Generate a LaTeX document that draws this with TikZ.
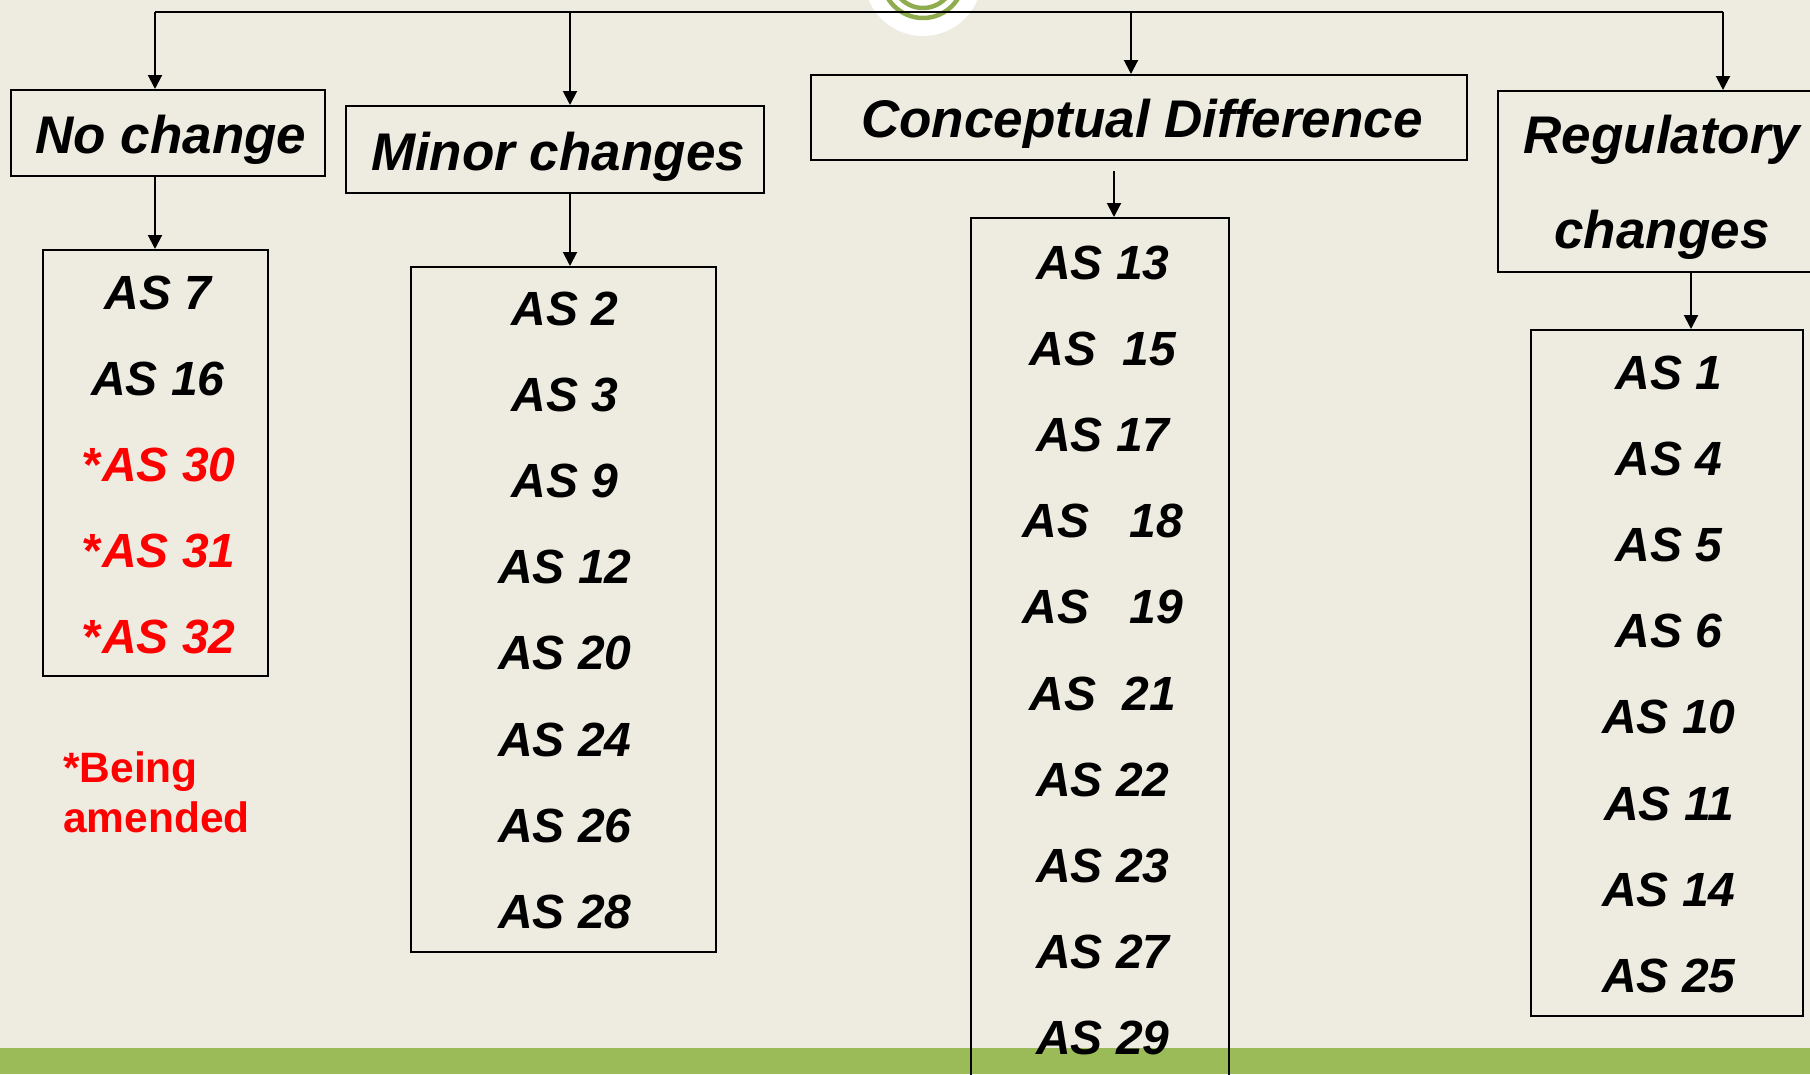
\documentclass[tikz,border=0pt]{standalone}
\usepackage{fontspec}
\setmainfont{Liberation Sans}
\usetikzlibrary{arrows.meta}
\definecolor{bg}{HTML}{EEECE1}
\definecolor{barg}{HTML}{9BBB59}
\definecolor{ringg}{HTML}{8FAD4E}
\definecolor{amend}{HTML}{FF0000}
\begin{document}
\begin{tikzpicture}[x=1pt,y=-1pt,
  box/.style={draw=black, line width=2pt, inner sep=0pt, fill=none},
  hdr/.style={inner sep=0pt, anchor=base, font=\fontsize{53}{95}\selectfont\bfseries\itshape},
  item/.style={inner sep=0pt, anchor=base, font=\fontsize{48}{58}\selectfont\bfseries\itshape},
  reditem/.style={item, text=amend},
  note/.style={inner sep=0pt, anchor=base west, text=amend, font=\fontsize{42.5}{50}\selectfont\bfseries},
  arr/.style={line width=2pt, -{Triangle[width=14pt,length=14pt]}},
  wire/.style={line width=2pt}]
\useasboundingbox (0,0) rectangle (1810,1074);
\clip (0,0) rectangle (1810,1074);
\fill[bg] (0,0) rectangle (1810,1074);
\fill[barg] (0,1048) rectangle (1810,1074);
% top logo
\fill[white] (923,-23) circle[radius=59];
\draw[ringg, line width=4.5pt] (923,-23) circle[radius=41];
\draw[ringg, line width=4.5pt] (923,-23) circle[radius=31];

% header boxes
\node[box, minimum width=314, minimum height=86] (nochg) at (168,133) {};
\node[box, minimum width=418, minimum height=87] (minor) at (555,149.5) {};
\node[box, minimum width=656, minimum height=85] (concept) at (1139,117.5) {};
\node[box, minimum width=330, minimum height=181] (reg) at (1663,181.5) {};

\node[hdr] (nochgT) at (171,153) {No change};
\node[hdr] (minorT) at (558,170) {Minor changes};
\node[hdr] (conceptT) at (1142,137) {Conceptual Difference};
\node[hdr] (regT) at (1662,153) {Regulatory};
\node[hdr] (regT2) at (1662,248) {changes};

% list boxes
\node[box, minimum width=225, minimum height=426] (nolist) at (155.5,463) {};
\node[box, minimum width=305, minimum height=685] (minlist) at (563.5,609.5) {};
\node[box, minimum width=258, minimum height=882] (conlist) at (1100,659) {};
\node[box, minimum width=272, minimum height=686] (reglist) at (1667,673) {};

% connectors
\coordinate (hub) at (923,11.7);
\coordinate (lhub) at (155,11.7);
\coordinate (rhub) at (1723,11.7);
\draw[wire] (lhub) -- (rhub);
\draw[arr] (lhub) -- (lhub |- nochg.north);
\draw[arr] (hub -| 570,0) -- (570,0 |- minor.north);
\draw[arr] (hub -| 1131,0) -- (1131,0 |- concept.north);
\draw[arr] (rhub) -- (rhub |- reg.north);
\draw[arr] (nochg.south -| 155,0) -- (155,0 |- nolist.north);
\draw[arr] (minor.south -| 570,0) -- (570,0 |- minlist.north);
\coordinate (cdrop) at (1114,171);
\draw[arr] (cdrop) -- (cdrop |- conlist.north);
\draw[arr] (reg.south -| 1691,0) -- (1691,0 |- reglist.north);

% No change list
\node[item] (n1) at (158,309) {AS 7};
\node[item] (n2) at (158,395.2) {AS 16};
\node[reditem] (n3) at (159.5,481.4) {{\upshape*}AS 30};
\node[reditem] (n4) at (159.5,567.6) {{\upshape*}AS 31};
\node[reditem] (n5) at (159.5,653.8) {{\upshape*}AS 32};
\node[note] (am1) at (63,782) {*Being};
\node[note] (am2) at (63,832) {amended};

% Minor list
\foreach \t [count=\i from 0] in {AS 2,AS 3,AS 9,AS 12,AS 20,AS 24,AS 26,AS 28}
  \node[item] (m\i) at (565,325+86.2*\i) {\t};

% Conceptual list
\foreach \t [count=\i from 0] in {AS 13,AS\ \ 15,AS 17,AS\ \ \ 18,AS\ \ \ 19,AS\ \ 21,AS 22,AS 23,AS 27,AS 29}
  \node[item] (c\i) at (1103,279+86.2*\i) {\t};

% Regulatory list
\foreach \t [count=\i from 0] in {AS 1,AS 4,AS 5,AS 6,AS 10,AS 11,AS 14,AS 25}
  \node[item] (r\i) at (1669,389+86.2*\i) {\t};
\end{tikzpicture}
\end{document}
